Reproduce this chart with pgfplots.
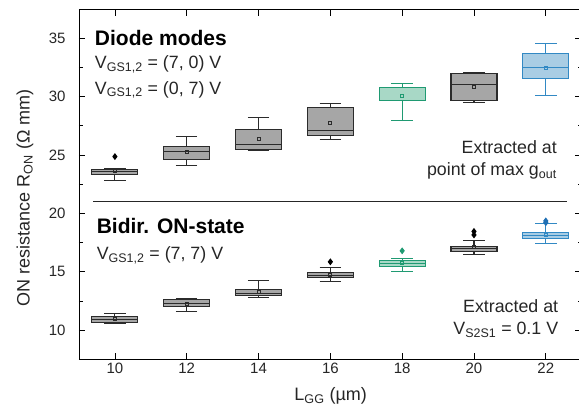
\documentclass[border=0pt]{standalone}
\usepackage{fontspec}
\setmainfont{Liberation Sans}
\usepackage{pgfplots}
\usepgfplotslibrary{statistics}
\pgfplotsset{compat=1.18}
\definecolor{boxgray}{HTML}{A6A6A6}
\definecolor{edgegray}{HTML}{2B2B2B}
\definecolor{grfill}{HTML}{A8D8C6}
\definecolor{gredge}{HTML}{1F9A72}
\definecolor{blfill}{HTML}{A9CDE4}
\definecolor{bledge}{HTML}{3289C4}
\definecolor{blout}{HTML}{1F6FB4}
\pgfplotsset{
  grayb/.style={draw=edgegray, fill=boxgray, line width=1.1pt, solid,
    mark=diamond*, mark size=2.6pt, mark options={fill=black, draw=black}},
  greenb/.style={draw=gredge, fill=grfill, line width=1.1pt, solid,
    mark=diamond*, mark size=2.6pt, mark options={fill=gredge, draw=gredge}},
  blueb/.style={draw=bledge, fill=blfill, line width=1.1pt, solid,
    mark=diamond*, mark size=2.6pt, mark options={fill=blout, draw=blout}},
}
\begin{document}
\begin{tikzpicture}
\begin{axis}[
  scale only axis, width=502.7pt, height=350.3pt,
  xmin=9, xmax=23, ymin=7.5, ymax=37.5,
  xtick={10,12,14,16,18,20,22}, ytick={10,15,20,25,30,35},
  minor ytick={7.5,12.5,17.5,22.5,27.5,32.5,37.5},
  tick align=inside, major tick length=6.5pt, minor tick length=4pt,
  tick style={line width=0.8pt, black},
  axis line style={line width=0.9pt},
  ticklabel style={font=\fontsize{15}{17}\selectfont, text=black!85},
  /pgf/number format/assume math mode=true,
  yticklabel style={xshift=-10pt},
  xlabel={L\textsubscript{GG} (µm)},
  ylabel={ON resistance R\textsubscript{ON} (Ω mm)},
  label style={font=\fontsize{18}{20}\selectfont, text=black!85},
  xlabel style={at={(axis description cs:0.5007,-0.119)}, anchor=base},
  ylabel style={at={(axis description cs:-0.1074,0.4605)}, anchor=center, rotate=0},
  boxplot/draw direction=y,
  boxplot/box extend=1.28,
  boxplot/whisker extend=0.6,
  clip=false,
]
\coordinate (ll) at (axis cs:9,7.5);
% ---- Diode modes ----
\addplot[grayb, boxplot prepared={draw position=10, lower whisker=22.81, lower quartile=23.32, median=23.58, upper quartile=23.78, upper whisker=23.85}] table[row sep=\\, y index=0] {data\\ 24.86\\};
\addplot[grayb, boxplot prepared={draw position=12, lower whisker=24.09, lower quartile=24.64, median=25.27, upper quartile=25.72, upper whisker=26.58}] coordinates {};
\addplot[grayb, boxplot prepared={draw position=14, lower whisker=25.38, lower quartile=25.44, median=25.89, upper quartile=27.21, upper whisker=28.24}] coordinates {};
\addplot[grayb, boxplot prepared={draw position=16, lower whisker=26.35, lower quartile=26.64, median=27.09, upper quartile=29.06, upper whisker=29.37}] coordinates {};
\addplot[greenb, boxplot prepared={draw position=18, lower whisker=27.95, lower quartile=29.66, median=30.80, upper quartile=30.80, upper whisker=31.15}] coordinates {};
\addplot[grayb, boxplot prepared={draw position=20, lower whisker=29.46, lower quartile=29.66, median=31.00, upper quartile=31.94, upper whisker=32.09}] coordinates {};
\addplot[blueb, boxplot prepared={draw position=22, lower whisker=30.06, lower quartile=31.54, median=32.48, upper quartile=33.66, upper whisker=34.54}] coordinates {};
% ---- Bidirectional ON-state ----
\addplot[grayb, boxplot prepared={draw position=10, lower whisker=10.57, lower quartile=10.68, median=10.94, upper quartile=11.16, upper whisker=11.42}] coordinates {};
\addplot[grayb, boxplot prepared={draw position=12, lower whisker=11.59, lower quartile=12.02, median=12.28, upper quartile=12.59, upper whisker=12.71}] coordinates {};
\addplot[grayb, boxplot prepared={draw position=14, lower whisker=12.77, lower quartile=12.94, median=13.17, upper quartile=13.51, upper whisker=14.25}] coordinates {};
\addplot[grayb, boxplot prepared={draw position=16, lower whisker=14.20, lower quartile=14.50, median=14.71, upper quartile=14.91, upper whisker=15.33}] table[row sep=\\, y index=0] {data\\ 15.85\\};
\addplot[greenb, boxplot prepared={draw position=18, lower whisker=14.99, lower quartile=15.48, median=15.74, upper quartile=15.93, upper whisker=16.16}] table[row sep=\\, y index=0] {data\\ 16.79\\};
\addplot[grayb, boxplot prepared={draw position=20, lower whisker=16.45, lower quartile=16.73, median=16.99, upper quartile=17.19, upper whisker=17.67}] table[row sep=\\, y index=0] {data\\ 18.15\\ 18.45\\};
\addplot[blueb, boxplot prepared={draw position=22, lower whisker=17.45, lower quartile=17.82, median=18.10, upper quartile=18.33, upper whisker=19.10}] table[row sep=\\, y index=0] {data\\ 19.20\\ 19.35\\};
% ---- means ----
\addplot[only marks, mark=square, mark size=1.5pt, mark options={draw=edgegray, line width=0.8pt}] coordinates {
 (10,23.61) (12,25.27) (14,26.35) (16,27.72) (20,30.80)
 (10,10.97) (12,12.28) (14,13.30) (16,14.74) (20,17.13)};
\addplot[only marks, mark=square, mark size=1.5pt, mark options={draw=gredge, line width=0.8pt}] coordinates {(18,30.06) (18,15.74)};
\addplot[only marks, mark=square, mark size=1.5pt, mark options={draw=bledge, line width=0.8pt}] coordinates {(22,32.48) (22,18.16)};
% ---- separator and annotations ----
\draw[line width=0.8pt, black!85] (axis cs:9.39,21) -- (axis cs:22.6,21);
\node[anchor=base west, inner sep=0pt, font=\bfseries\fontsize{21}{24}\selectfont] at (axis cs:9.44,34.37) {Diode modes};
\node[anchor=base west, inner sep=0pt, font=\fontsize{17.8}{20}\selectfont, text=black!85] at (axis cs:9.44,32.37) {V\textsubscript{GS1,2} = (7, 0) V};
\node[anchor=base west, inner sep=0pt, font=\fontsize{17.8}{20}\selectfont, text=black!85] at (axis cs:9.44,30.2) {V\textsubscript{GS1,2} = (0, 7) V};
\node[anchor=base east, inner sep=0pt, font=\fontsize{17.8}{20}\selectfont, text=black!85] at (axis cs:22.31,25.15) {Extracted at};
\node[anchor=base east, inner sep=0pt, font=\fontsize{17.8}{20}\selectfont, text=black!85] at (axis cs:22.31,23.24) {point of max g\textsubscript{out}};
\node[anchor=base west, inner sep=0pt, font=\bfseries\fontsize{21}{24}\selectfont] at (axis cs:9.49,18.3) {Bidir. ON-state};
\node[anchor=base west, inner sep=0pt, font=\fontsize{17.8}{20}\selectfont, text=black!85] at (axis cs:9.49,16.02) {V\textsubscript{GS1,2} = (7, 7) V};
\node[anchor=base east, inner sep=0pt, font=\fontsize{17.8}{20}\selectfont, text=black!85] at (axis cs:22.35,11.54) {Extracted at};
\node[anchor=base east, inner sep=0pt, font=\fontsize{17.8}{20}\selectfont, text=black!85] at (axis cs:22.35,9.6) {V\textsubscript{S2S1} = 0.1 V};
\end{axis}
\pgfresetboundingbox
\path[use as bounding box] ([xshift=-79pt,yshift=-53.7pt]ll) rectangle ([xshift=500pt,yshift=359.3pt]ll);
\end{tikzpicture}
\end{document}
